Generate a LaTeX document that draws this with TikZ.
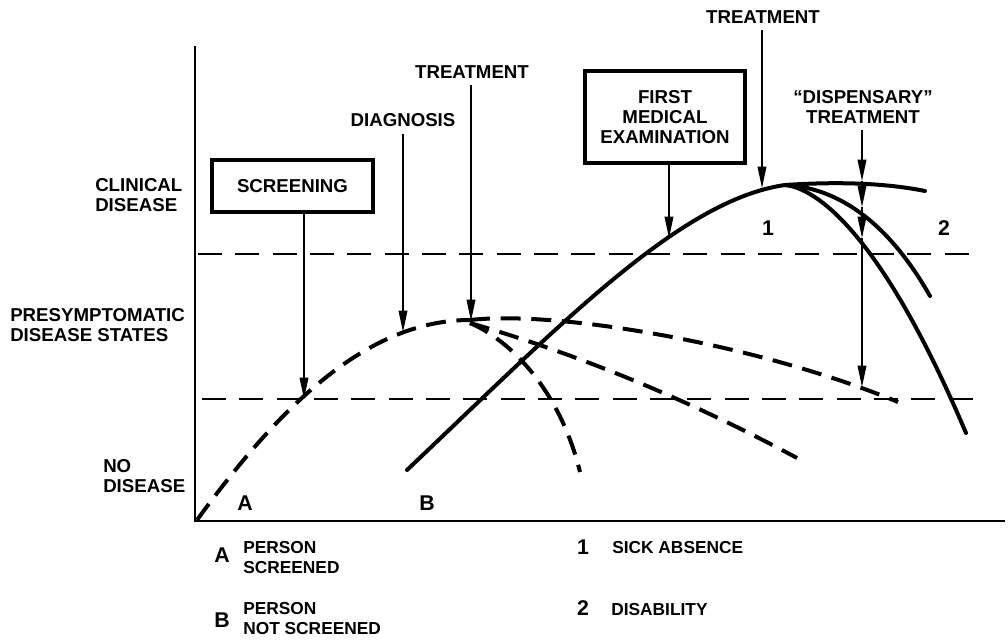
\documentclass[tikz,border=0pt]{standalone}
\usepackage{fontspec}
\setmainfont{Liberation Sans}
\usetikzlibrary{arrows.meta}
\tikzset{
  lbl/.style={font=\fontsize{14}{15}\selectfont\bfseries, inner xsep=2pt, inner ysep=5pt, align=center},
  sidelbl/.style={font=\fontsize{14}{15}\selectfont\bfseries, inner sep=0pt, align=left, anchor=west},
  leg/.style={font=\fontsize{13}{15}\selectfont\bfseries, inner sep=0pt, align=left, anchor=west},
  bigl/.style={font=\fontsize{16}{18}\selectfont\bfseries, inner sep=0pt},
  boxed/.style={font=\fontsize{14}{15}\selectfont\bfseries, align=center, draw, line width=2.5pt, inner sep=0pt},
  arr/.style={line width=1.1pt, -{Triangle[length=16pt,width=6.5pt]}},
  axis/.style={line width=1.3pt},
  thindash/.style={line width=1.3pt, dash pattern=on 18pt off 10pt},
  thickdash/.style={line width=3pt, dash pattern=on 15pt off 8pt},
  solidcurve/.style={line width=3pt, line cap=round},
}
\begin{document}
\begin{tikzpicture}[x=0.75pt, y=-0.75pt]
\useasboundingbox (0,0) rectangle (1008,642);
% axes
\coordinate (ytop) at (195,46);
\coordinate (orig) at (195,521);
\coordinate (xend) at (1005,521);
\draw[axis] (ytop) -- (orig) -- (xend);
% dashed levels
\coordinate (u1) at (198,254); \coordinate (u2) at (975,254);
\coordinate (l1) at (202,399); \coordinate (l2) at (985,399);
\draw[thindash] (u1) -- (u2);
\draw[thindash] (l1) -- (l2);
% left labels
\node[sidelbl] (clin) at (95,195) {CLINICAL\\DISEASE};
\node[sidelbl] (pres) at (10,325) {PRESYMPTOMATIC\\DISEASE STATES};
\node[sidelbl] (nod) at (103,476) {NO\\DISEASE};
% dashed curve A and branches
\draw[thickdash] (197,520) .. controls (270,420) and (360,320) .. (470,320);
\draw[thickdash] (470,320) .. controls (560,310) and (760,345) .. (898,402);
\draw[thickdash] (470,323) .. controls (570,352) and (680,395) .. (797,458);
\draw[thickdash] (470,323) .. controls (510,340) and (560,390) .. (580,472);
% solid curve B and branches
\draw[solidcurve] (407,470) .. controls (560,325) and (680,200) .. (785,185);
\draw[solidcurve] (785,185) .. controls (830,182) and (880,182) .. (925,191);
\draw[solidcurve] (785,185) .. controls (825,187) and (880,208) .. (930,296);
\draw[solidcurve] (785,185) .. controls (815,188) and (880,230) .. (966,433);
% target points
\coordinate (pS) at (304,399);
\coordinate (pD) at (403,332);
\coordinate (pT1) at (471,321);
\coordinate (pF) at (669,238);
\coordinate (pT2) at (762,188);
\coordinate (d1) at (862,181);
\coordinate (d2) at (862,207);
\coordinate (d3) at (862,238);
\coordinate (pDisp) at (862,387);
% boxes and labels
\node[boxed, minimum width=120.75pt, minimum height=39pt] (screen) at (292.5,186) {SCREENING};
\node[boxed, minimum width=120pt, minimum height=69pt] (fme) at (665,117) {FIRST\\MEDICAL\\EXAMINATION};
\node[lbl] (diag) at (403,120) {DIAGNOSIS};
\node[lbl] (treat1) at (472,72) {TREATMENT};
\node[lbl] (treat2) at (763,17) {TREATMENT};
\node[lbl] (disp) at (863,107) {``DISPENSARY''\\TREATMENT};
% arrows
\draw[arr] (pS |- screen.south) -- (pS);
\draw[arr] (pD |- diag.south) -- (pD);
\draw[arr] (pT1 |- treat1.south) -- (pT1);
\draw[arr] (pF |- fme.south) -- (pF);
\draw[arr] (pT2 |- treat2.south) -- (pT2);
\draw[arr] (d1 |- disp.south) -- (d1);
\draw[arr] (d1) -- (d2);
\draw[arr] (d2) -- (d3);
\draw[arr] (d3) -- (pDisp);
% curve labels
\node[bigl] (lA) at (245,503) {A};
\node[bigl] (lB) at (427,503) {B};
\node[bigl] (n1) at (768,228) {1};
\node[bigl] (n2) at (944,228) {2};
% legend
\node[bigl] (kA) at (222,555) {A};
\node[leg] (tA) at (243,558) {PERSON\\SCREENED};
\node[bigl] (kB) at (222,620) {B};
\node[leg] (tB) at (243,619) {PERSON\\NOT SCREENED};
\node[bigl] (k1) at (583,547) {1};
\node[leg] (t1) at (612,548) {SICK ABSENCE};
\node[bigl] (k2) at (583,608) {2};
\node[leg] (t2) at (611,610) {DISABILITY};
\end{tikzpicture}
\end{document}
